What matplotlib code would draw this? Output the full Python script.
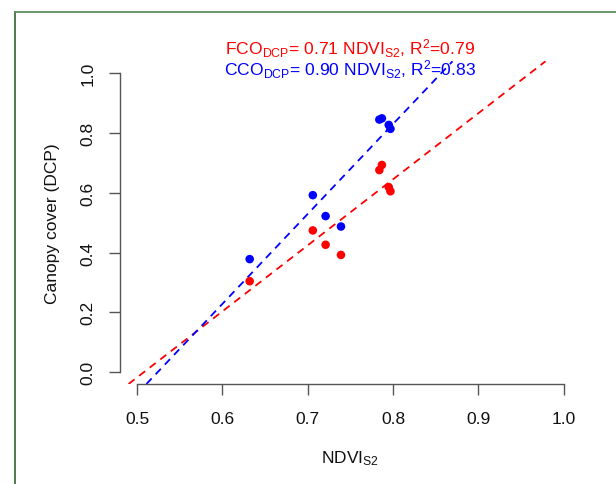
import matplotlib
matplotlib.use("Agg")
import matplotlib.pyplot as plt
from matplotlib.lines import Line2D

plt.rcParams['font.family'] = ['Liberation Sans', 'DejaVu Sans']
plt.rcParams['mathtext.fontset'] = 'custom'
plt.rcParams['mathtext.rm'] = 'Liberation Sans'
plt.rcParams['mathtext.it'] = 'Liberation Sans:italic'
plt.rcParams['mathtext.bf'] = 'Liberation Sans:bold'

# Data
ndvi = [0.632, 0.706, 0.721, 0.739, 0.784, 0.787, 0.795, 0.797]
cco = [0.378, 0.592, 0.522, 0.487, 0.845, 0.849, 0.827, 0.814]
fco = [0.304, 0.474, 0.426, 0.392, 0.676, 0.693, 0.619, 0.605]
fco_line = (-1.123, 2.21)   # intercept, slope
cco_line = (-1.578, 3.01)
x_ticks = [0.5, 0.6, 0.7, 0.8, 0.9, 1.0]
y_ticks = [0.0, 0.2, 0.4, 0.6, 0.8, 1.0]
fco_label = r'FCO$_{\mathrm{DCP}}$= 0.71 NDVI$_{\mathrm{S2}}$, R$^{\mathrm{2}}$=0.79'
cco_label = r'CCO$_{\mathrm{DCP}}$= 0.90 NDVI$_{\mathrm{S2}}$, R$^{\mathrm{2}}$=0.83'

W, H = 616, 485
fig = plt.figure(figsize=(W / 100, H / 100), dpi=100)
fig.patch.set_facecolor('white')

left, right, top, bottom = 120, 580.7, 62.3, 385
ax = fig.add_axes([left / W, 1 - bottom / H, (right - left) / W, (bottom - top) / H])
ax.set_xlim(0.48, 1.02)
ax.set_ylim(-0.04, 1.04)

ax.scatter(ndvi, cco, s=38, color='#0000FF', edgecolors='none', zorder=3)
ax.scatter(ndvi, fco, s=38, color='#FF0000', edgecolors='none', zorder=3)

ax.axline((0, fco_line[0]), slope=fco_line[1], color='#FF0000', lw=1.3,
          dashes=(4.2, 3.2), zorder=2)
ax.axline((0, cco_line[0]), slope=cco_line[1], color='#0000FF', lw=1.3,
          dashes=(4.2, 3.2), zorder=2)

for s in ['top', 'right']:
    ax.spines[s].set_visible(False)
for s in ['left', 'bottom']:
    ax.spines[s].set_color('#555555')
    ax.spines[s].set_linewidth(1.0)
ax.spines['bottom'].set_bounds(0.5, 1.0)
ax.spines['left'].set_bounds(0.0, 1.0)

ax.set_xticks(x_ticks)
ax.set_xticklabels([f'{v:.1f}' for v in x_ticks])
ax.set_yticks(y_ticks)
ax.set_yticklabels([f'{v:.1f}' for v in y_ticks], rotation=90, va='center')
ax.tick_params(axis='both', direction='out', length=8, width=1.0,
               color='#555555', labelsize=12.5, labelcolor='#111111')
ax.tick_params(axis='x', pad=11.5)
ax.tick_params(axis='y', pad=9.5)

ax.set_xlabel(r'NDVI$_{\mathrm{S2}}$', fontsize=12.5, color='#111111', labelpad=16)
ax.set_ylabel('Canopy cover (DCP)', fontsize=12.5, color='#111111', labelpad=15)

ax.text(0.75, 1.085, fco_label, color='#FF0000', fontsize=12.6,
        ha='center', va='center', clip_on=False)
ax.text(0.75, 1.014, cco_label, color='#0000FF', fontsize=12.6,
        ha='center', va='center', clip_on=False)

# green frame (left and top edges visible)
fig.add_artist(Line2D([14.5 / W, 14.5 / W], [0, 1 - 12.7 / H],
                      transform=fig.transFigure, color='#3f6f3f', lw=1.3))
fig.add_artist(Line2D([14.5 / W, 1], [1 - 12.7 / H, 1 - 12.7 / H],
                      transform=fig.transFigure, color='#5f8f5f', lw=1.3))

fig.savefig('out.png', dpi=100, facecolor='white')
